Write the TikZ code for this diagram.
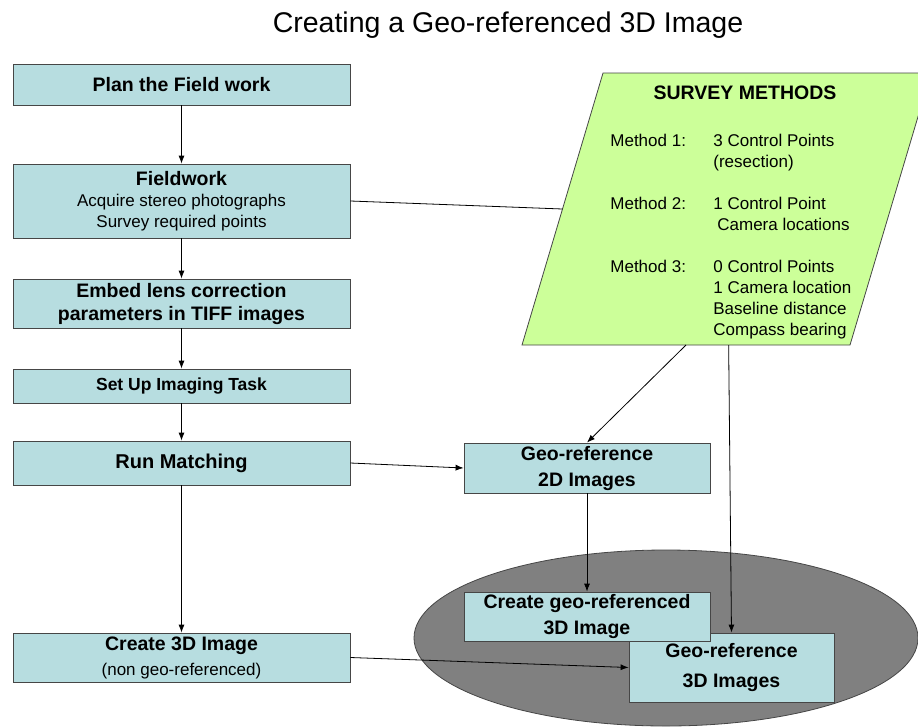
\documentclass[tikz,border=0pt]{standalone}
\usepackage{fontspec}
\setmainfont{Liberation Sans}
\usetikzlibrary{arrows.meta,calc,shapes.geometric}
\definecolor{boxfill}{RGB}{183,221,224}
\definecolor{surveyfill}{RGB}{204,255,153}
\definecolor{ovalfill}{RGB}{128,128,128}
\definecolor{edge}{RGB}{70,70,70}

\begin{document}
\begin{tikzpicture}[x=1pt,y=-1pt,line width=0.8pt,
    stage/.style={draw=edge,fill=boxfill,inner sep=0pt,align=center,font=\bfseries\fontsize{19.5}{24}\selectfont},
    link/.style={-{Latex[length=8pt,width=6pt]}}]
    \clip (0,0) rectangle (918,726);
    \fill[white] (0,0) rectangle (918,726);
    \node[font=\fontsize{28.5}{34}\selectfont] (title) at (508,25) {Creating a Geo-referenced 3D Image};

    \node[ellipse,draw=edge,fill=ovalfill,minimum width=504pt,minimum height=176pt,inner sep=0pt] (oval) at (666,638) {};

    \coordinate (sm-sw) at (522,345);
    \coordinate (sm-nw) at (603,73);
    \coordinate (sm-ne) at (931,73);
    \coordinate (sm-se) at (850,345);
    \draw[draw=edge,fill=surveyfill] (sm-sw) -- (sm-nw) -- (sm-ne) -- (sm-se) -- cycle;
    \node[font=\bfseries\fontsize{19.5}{23}\selectfont] (smtitle) at (745,93) {SURVEY METHODS};
    \node[anchor=base west,inner sep=0pt,font=\fontsize{17}{21}\selectfont] (methods) at (610,146)
      {\begin{tabular}[t]{@{}p{103pt}@{}l@{}}
        Method 1: & 3 Control Points\\
                  & (resection)\\[21pt]
        Method 2: & 1 Control Point\\
                  & \hspace{4pt}Camera locations\\[21pt]
        Method 3: & 0 Control Points\\
                  & 1 Camera location\\
                  & Baseline distance\\
                  & Compass bearing
       \end{tabular}};

    \node[stage,minimum width=337pt,minimum height=41pt] (plan) at (181.5,84.5) {Plan the Field work};
    \node[stage,minimum width=337pt,minimum height=74pt,font=\fontsize{17}{21}\selectfont] (field) at (181.5,201)
      {{\bfseries\fontsize{19.5}{24}\selectfont Fieldwork}\\Acquire stereo photographs\\Survey required points};
    \node[stage,minimum width=337pt,minimum height=49pt] (embed) at (181.5,303.5)
      {Embed lens correction\\[-1pt]parameters in TIFF images};
    \node[stage,minimum width=337pt,minimum height=34pt,font=\bfseries\fontsize{17.5}{21}\selectfont] (setup) at (181.5,386) {Set Up Imaging Task};
    \node[stage,minimum width=337pt,minimum height=44pt,font=\bfseries\fontsize{20}{24}\selectfont] (runm) at (181.5,463) {Run Matching};
    \node[stage,minimum width=337pt,minimum height=49pt] (create) at (181.5,657.5)
      {Create 3D Image\\[1pt]{\mdseries\fontsize{17}{20}\selectfont(non geo-referenced)}};

    \node[stage,minimum width=246pt,minimum height=50pt] (geo2d) at (587,468) {Geo-reference\\[2pt]2D Images};
    \node[stage,minimum width=205pt,minimum height=69pt] (geo3d) at (731.5,667.5) {Geo-reference\\[6pt]3D Images};
    \node[stage,minimum width=246pt,minimum height=49pt] (creategeo) at (587,616.5) {Create geo-referenced\\[2pt]3D Image};

    \draw[link] (plan) -- (field);
    \draw[link] (field) -- (embed);
    \draw[link] (embed) -- (setup);
    \draw[link] (setup) -- (runm);
    \draw[link] (runm) -- (create);
    \draw (field.east) -- ($(sm-sw)!0.5!(sm-nw)$);
    \draw[link] (runm.east) -- (geo2d.west);
    \draw[link] ($(sm-sw)!0.5!(sm-se)$) -- (geo2d.north);
    \draw[link] ($(sm-sw)!0.63!(sm-se)$) -- (geo3d.north);
    \draw[link] (geo2d) -- (creategeo);
    \draw[link] (create.east) -- (geo3d.west);
\end{tikzpicture}
\end{document}
